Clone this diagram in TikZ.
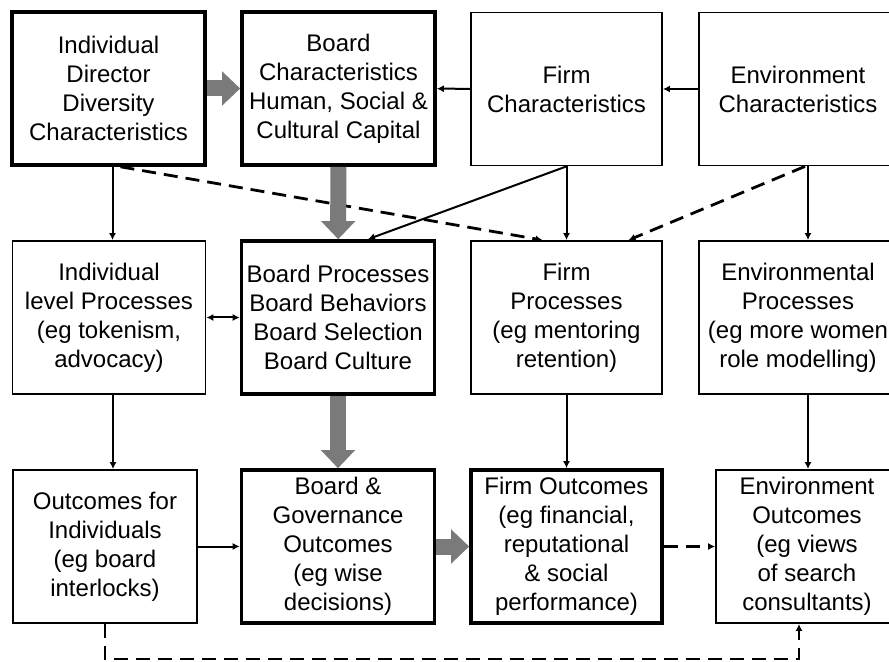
\documentclass[tikz,border=0pt]{standalone}
\usepackage{fontspec}
\setmainfont{Liberation Sans}
\usetikzlibrary{arrows.meta,calc}

\begin{document}
\begin{tikzpicture}[x=0.5pt,y=-0.5pt,
    box/.style={draw, line width=0.9pt, minimum width=96.5pt, minimum height=76.5pt,
        align=center, inner sep=1pt, font=\fontsize{12}{14.5}\selectfont},
    boldbox/.style={box, line width=1.8pt},
    conn/.style={line width=1pt, -{Latex[length=3.5pt,width=3.5pt]}},
    dconn/.style={conn, line width=1.4pt, dash pattern=on 7pt off 4pt},
    fat/.style={line width=8pt, draw=black!52, -{Triangle[width=16.5pt,length=9pt]}}]
    \useasboundingbox (0,0) rectangle (889,662);
    \clip (0,0) rectangle (889,662);

    % characteristics
    \node[boldbox] (A) at (108.5,88.5) {Individual\\Director\\Diversity\\Characteristics};
    \node[boldbox] (B) at (338.5,88.5) {Board\\Characteristics\\Human, Social \&\\Cultural Capital};
    \node[box, minimum width=95.5pt] (C) at (566.5,89) {Firm\\Characteristics};
    \node[box, minimum width=99pt] (D) at (798,89) {Environment\\Characteristics};

    % processes
    \node[box] (E) at (109,317.5) {Individual\\level Processes\\(eg tokenism,\\advocacy)};
    \node[boldbox] (F) at (338,317.5) {Board Processes\\Board Behaviors\\Board Selection\\Board Culture};
    \node[box, minimum width=95.5pt] (G) at (566.5,317.5) {Firm\\Processes\\(eg mentoring\\retention)};
    \node[box, minimum width=99pt] (H) at (798,317.5) {Environmental\\Processes\\(eg more women\\role modelling)};

    % outcomes
    \node[box, minimum width=92pt] (I) at (105,546.5) {Outcomes for\\Individuals\\(eg board\\interlocks)};
    \node[boldbox] (J) at (338,546.5) {Board \&\\Governance\\Outcomes\\(eg wise\\decisions)};
    \node[boldbox, minimum width=95.5pt] (K) at (566.5,546.5) {Firm Outcomes\\(eg financial,\\reputational\\\& social\\performance)};
    \node[box, minimum width=91pt] (L) at (807,546.5) {Environment\\Outcomes\\(eg views\\of search\\consultants)};

    % top row links
    \draw[fat] (A) -- (B);
    \draw[conn] (C) -- (B);
    \draw[conn] (D) -- (C);

    % down to processes
    \draw[conn] ([xshift=2pt]A.south) -- ([xshift=2pt]A.south |- E.north);
    \draw[dconn] ([xshift=6pt]A.south) -- ([xshift=-12pt]G.north);
    \draw[fat] (B) -- (F);
    \draw[conn] (C.south) -- ([xshift=15pt]F.north);
    \draw[conn] (C) -- (G);
    \draw[dconn] ([xshift=3.5pt]D.south) -- ([xshift=31pt]G.north);
    \draw[conn] ([xshift=5pt]D.south) -- ([xshift=5pt]H.north);
    \draw[conn, {Latex[length=3.5pt,width=3.5pt]}-{Latex[length=3.5pt,width=3.5pt]}] (E) -- (F);

    % down to outcomes
    \draw[conn] ([xshift=2pt]E.south) -- ([xshift=2pt]E.south |- I.north);
    \draw[fat] (F) -- (J);
    \draw[conn] (G) -- (K);
    \draw[conn] ([xshift=5pt]H.south) -- ([xshift=5pt]H.south |- L.north);

    % outcome links
    \draw[conn] (I) -- (J);
    \draw[fat] (J) -- (K);
    \draw[dconn] (K) -- (L);
    \coordinate (bend) at (0,659);
    \draw[dconn] (I.south) -- (I.south |- bend) -| ([xshift=-4pt]L.south);
\end{tikzpicture}
\end{document}
